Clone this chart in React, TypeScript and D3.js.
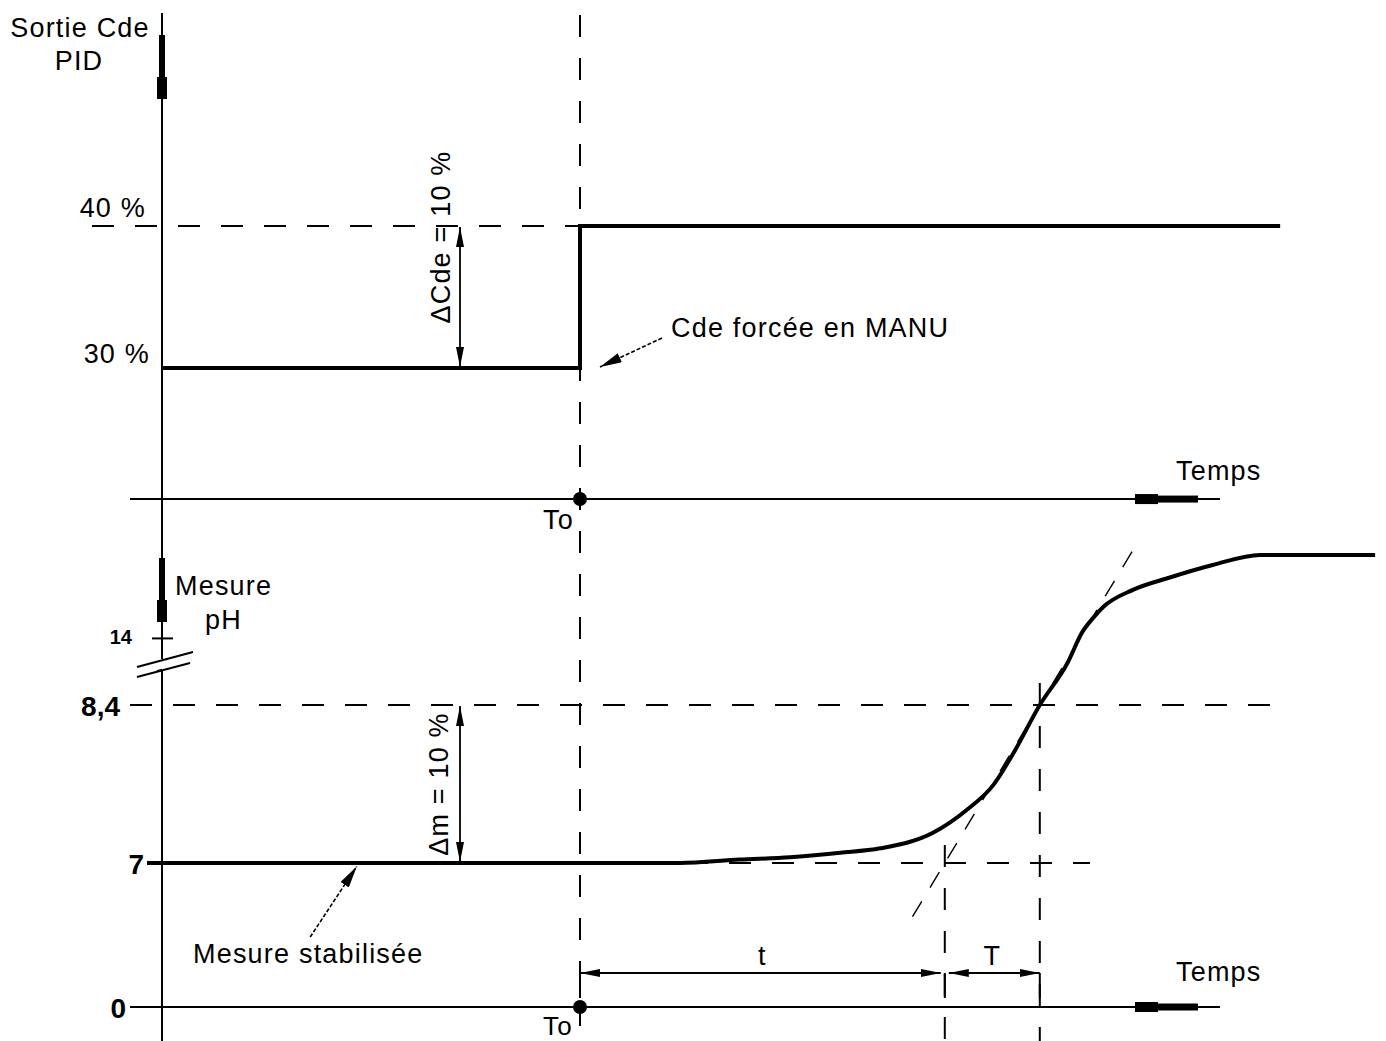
import React from 'react';
import * as d3 from 'd3';

// ---- Data ----
const timeDomain: [number, number] = [-44, 84]; // time units, To = 0
const stepTimes = [-44, 0, 0, 73.7];
const stepValues = [30, 30, 40, 40]; // % output
const pctTicks = [
  { label: '40 %', value: 40 },
  { label: '30 %', value: 30 },
];
const topAxisLevel = 20.77; // % level at which the top time axis is drawn (schematic)

const measTimes = [-44, 10.5, 16.8, 22.1, 27.4, 31.6, 37.2, 40.7, 43.5, 45.6, 48.4, 51.3, 52.9, 54.0, 55.1, 58.2, 62.1, 66.6, 71.6, 83.7];
const measValues = [7, 7, 7.03, 7.05, 7.09, 7.13, 7.27, 7.47, 7.69, 7.97, 8.4, 8.77, 9.05, 9.17, 9.27, 9.42, 9.53, 9.64, 9.73, 9.73];

// schematic (broken) pH axis: label and display level in the pH scale
const phTicks = [
  { label: '14', at: 8.99, small: true },
  { label: '8,4', at: 8.4, small: false },
  { label: '7', at: 7, small: false },
  { label: '0', at: 5.724, small: false },
];
const phAxisLevel = 5.724;
const phStart = 7;
const phRef = 8.4;
const tTo = 0;
const tDelay = 38.4;
const tEnd = 48.4;
const tangentRange = [35, 58.3];

const FONT = "'Liberation Sans', Arial, sans-serif";

export default function App() {
  const W = 1386, H = 1041;
  const x = d3.scaleLinear().domain(timeDomain).range([162, 1378]);
  const yTop = d3.scaleLinear().domain([30, 40]).range([368, 226]);
  const yPh = d3.scaleLinear().domain([7, 8.4]).range([863, 705]);

  const axX = x(timeDomain[0]);
  const xTo = x(tTo);
  const xDelay = x(tDelay);
  const xEnd = x(tEnd);
  const yTopAxis = yTop(topAxisLevel);
  const yBotAxis = yPh(phAxisLevel);
  const hStart = 130, hEnd = 1220;

  const stepLine = d3.line<number>()
    .x((_, i) => x(stepTimes[i]))
    .y((_, i) => yTop(stepValues[i]));
  const stepPath = stepLine(stepValues) || '';

  const measLine = d3.line<number>()
    .x((_, i) => x(measTimes[i]))
    .y((_, i) => yPh(measValues[i]))
    .curve(d3.curveMonotoneX);
  const measPath = measLine(measValues) || '';

  const slope = (phRef - phStart) / (tEnd - tDelay);
  const tanY = (t: number) => yPh(phRef + slope * (t - tEnd));

  const dash = '22 21';
  const txt = { fontFamily: FONT, fontSize: 27, fill: '#000', letterSpacing: 1.2 } as const;
  const bold = { fontFamily: FONT, fontSize: 28, fontWeight: 700, fill: '#000' } as const;

  const hArrowDecor = (y: number) => (
    <g>
      <rect x={hEnd - 85} y={y - 5} width={23} height={10} fill="#000" />
      <rect x={hEnd - 62} y={y - 3.5} width={40} height={7} fill="#000" />
    </g>
  );
  const vArrowDecor = (y0: number) => (
    <g>
      <rect x={axX - 3} y={y0} width={6} height={42} fill="#000" />
      <rect x={axX - 5} y={y0 + 42} width={10} height={22} fill="#000" />
    </g>
  );

  return (
    <svg width={W} height={H} style={{ position: 'absolute', left: 0, top: 0, display: 'block', background: '#fff' }}>
      <defs>
        <marker id="hd" viewBox="0 0 20 8" refX={20} refY={4} markerWidth={20} markerHeight={8}
          markerUnits="userSpaceOnUse" orient="auto-start-reverse">
          <path d="M0,0 L20,4 L0,8 Z" fill="#000" />
        </marker>
        <marker id="hl" viewBox="0 0 22 10" refX={22} refY={5} markerWidth={22} markerHeight={10}
          markerUnits="userSpaceOnUse" orient="auto">
          <path d="M0,0 L22,5 L0,10 Z" fill="#000" />
        </marker>
      </defs>
      <rect x={0} y={0} width={W} height={H} fill="#fff" />

      {/* ===== Top panel ===== */}
      <line x1={92} y1={yTop(40)} x2={xTo} y2={yTop(40)} stroke="#000" strokeWidth={2} strokeDasharray={dash} />
      <line x1={xTo} y1={15} x2={xTo} y2={H} stroke="#000" strokeWidth={2} strokeDasharray={dash} />

      {/* vertical axis */}
      <line x1={axX} y1={13} x2={axX} y2={659} stroke="#000" strokeWidth={2} />
      <line x1={axX} y1={670} x2={axX} y2={H} stroke="#000" strokeWidth={2} />
      <line x1={axX - 5} y1={671} x2={axX} y2={670} stroke="#000" strokeWidth={2} />
      {vArrowDecor(35)}
      {vArrowDecor(558)}

      {/* top time axis */}
      <line x1={hStart} y1={yTopAxis} x2={hEnd} y2={yTopAxis} stroke="#000" strokeWidth={2} />
      {hArrowDecor(yTopAxis)}
      <circle cx={xTo} cy={yTopAxis} r={7} fill="#000" />

      {/* step */}
      <path d={stepPath} fill="none" stroke="#000" strokeWidth={4} strokeLinejoin="miter" />

      {/* ΔCde arrow */}
      <line x1={460} y1={yTop(40) + 1} x2={460} y2={yTop(30) - 1} stroke="#000" strokeWidth={1.8}
        markerStart="url(#hd)" markerEnd="url(#hd)" />
      <text transform={`translate(450, ${(yTop(40) + yTop(30)) / 2 - 60}) rotate(-90)`} textAnchor="middle" style={txt}>ΔCde = 10 %</text>

      {/* tick labels */}
      {pctTicks.map((d) => (
        <text key={d.label} x={d.value === 40 ? 146 : 150} y={d.value === 40 ? 217 : 363} textAnchor="end" style={txt}>{d.label}</text>
      ))}

      {/* Cde forcée annotation */}
      <line x1={x(8.63)} y1={yTop(32.11)} x2={x(2.1)} y2={yTop(30.07)} stroke="#000" strokeWidth={1.6}
        strokeDasharray="4 2" markerEnd="url(#hl)" />
      <text x={671} y={337} style={txt}>Cde forcée en MANU</text>

      <text x={80} y={37} textAnchor="middle" style={txt}>Sortie Cde</text>
      <text x={79} y={70} textAnchor="middle" style={txt}>PID</text>
      <text x={1176} y={480} style={txt}>Temps</text>
      <text x={543} y={529} style={txt}>To</text>

      {/* ===== Bottom panel ===== */}
      <line x1={130} y1={yPh(phRef)} x2={1275} y2={yPh(phRef)} stroke="#000" strokeWidth={2} strokeDasharray={dash} />
      <line x1={600} y1={yPh(phStart)} x2={1090} y2={yPh(phStart)} stroke="#000" strokeWidth={2} strokeDasharray={dash} />
      <line x1={xDelay} y1={845} x2={xDelay} y2={H} stroke="#000" strokeWidth={2} strokeDasharray={dash} />
      <line x1={xEnd} y1={683} x2={xEnd} y2={H} stroke="#000" strokeWidth={2} strokeDasharray={dash} />

      {/* tangent */}
      <line x1={x(tangentRange[0])} y1={tanY(tangentRange[0])} x2={x(tangentRange[1])} y2={tanY(tangentRange[1])}
        stroke="#000" strokeWidth={1.4} strokeDasharray="18 16" />

      {/* measurement curve */}
      <path d={measPath} fill="none" stroke="#000" strokeWidth={4} />
      <line x1={147} y1={yPh(phStart)} x2={axX} y2={yPh(phStart)} stroke="#000" strokeWidth={4} />

      {/* 14 tick */}
      <line x1={152} y1={yPh(8.99)} x2={173} y2={yPh(8.99)} stroke="#000" strokeWidth={2} />
      {/* axis break marks */}
      <line x1={137} y1={667} x2={193} y2={652} stroke="#000" strokeWidth={2} />
      <line x1={137} y1={677} x2={190} y2={663} stroke="#000" strokeWidth={2} />

      {/* pH tick labels */}
      {phTicks.map((d) => {
        const y = yPh(d.at);
        if (d.small) {
          return <text key={d.label} x={132} y={y + 6} textAnchor="end" style={{ ...bold, fontSize: 20 }}>{d.label}</text>;
        }
        const right = d.label === '8,4' ? 120 : d.label === '7' ? 144 : 126;
        return <text key={d.label} x={right} y={y + 11} textAnchor="end" style={bold}>{d.label}</text>;
      })}

      {/* Δm arrow */}
      <line x1={460} y1={yPh(phRef) + 1} x2={460} y2={yPh(phStart) - 1} stroke="#000" strokeWidth={1.8}
        markerStart="url(#hd)" markerEnd="url(#hd)" />
      <text transform={`translate(448, ${(yPh(phRef) + yPh(phStart)) / 2}) rotate(-90)`} textAnchor="middle" style={txt}>Δm = 10 %</text>

      {/* Mesure stabilisée */}
      <line x1={x(-28.4)} y1={yPh(6.344)} x2={x(-23.5)} y2={yPh(6.97)} stroke="#000" strokeWidth={1.6}
        strokeDasharray="4 2" markerEnd="url(#hl)" />
      <text x={193} y={963} style={txt}>Mesure stabilisée</text>

      <text x={175} y={595} style={txt}>Mesure</text>
      <text x={205} y={629} style={txt}>pH</text>

      {/* bottom time axis */}
      <line x1={hStart} y1={yBotAxis} x2={hEnd} y2={yBotAxis} stroke="#000" strokeWidth={2} />
      {hArrowDecor(yBotAxis)}
      <circle cx={xTo} cy={yBotAxis} r={7} fill="#000" />
      <text x={1176} y={981} style={txt}>Temps</text>
      <text x={543} y={1035} style={{ ...txt, fontSize: 26 }}>To</text>

      {/* t / T dimensions */}
      <line x1={xTo} y1={973} x2={xTo} y2={998} stroke="#000" strokeWidth={2} />
      <line x1={xDelay} y1={973} x2={xDelay} y2={998} stroke="#000" strokeWidth={2} />
      <line x1={xEnd} y1={973} x2={xEnd} y2={998} stroke="#000" strokeWidth={2} />
      <line x1={xTo} y1={973} x2={xDelay - 4} y2={973} stroke="#000" strokeWidth={1.8}
        markerStart="url(#hd)" markerEnd="url(#hd)" />
      <line x1={xDelay + 4} y1={973} x2={xEnd} y2={973} stroke="#000" strokeWidth={1.8}
        markerStart="url(#hd)" markerEnd="url(#hd)" />
      <text x={(xTo + xDelay) / 2} y={965} textAnchor="middle" style={txt}>t</text>
      <text x={(xDelay + xEnd) / 2} y={965} textAnchor="middle" style={txt}>T</text>
    </svg>
  );
}
